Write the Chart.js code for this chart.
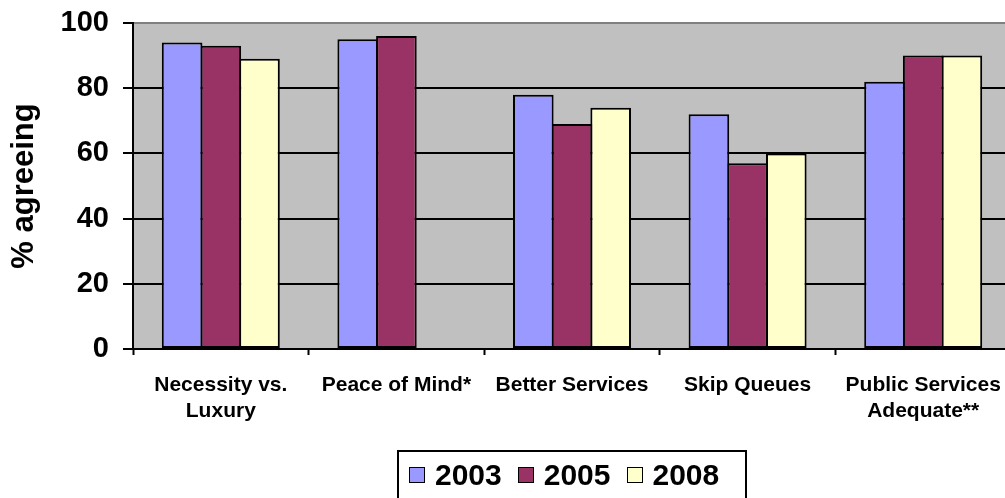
<!DOCTYPE html>
<html>
<head>
<meta charset="utf-8">
<script src="https://cdn.jsdelivr.net/npm/chart.js@4/dist/chart.umd.min.js"></script>
<style>
  html, body { margin: 0; padding: 0; background: #fff; overflow: hidden; }
  #wrap { position: relative; width: 1011px; height: 498px; }
  #legend {
    position: absolute; left: 397px; top: 450px; width: 346px; height: 60px;
    border: 2px solid #000; box-sizing: content-box;
    font-family: "Liberation Sans", Arial, sans-serif; font-weight: bold; font-size: 30px;
  }
  #legend .row { position: absolute; left: 10px; top: 6px; display: flex; align-items: center; line-height: 34px; }
  #legend .item { display: flex; align-items: center; margin-right: 16px; }
  #legend .swatch { width: 14px; height: 14px; border: 1.5px solid #000; margin-right: 10px; }
</style>
</head>
<body>
<div id="wrap">
  <canvas id="chart" width="1011" height="498"></canvas>
  <div id="legend"><div class="row"></div></div>
</div>
<script>
// Categorías y valores por año (% de acuerdo)
const categories = [
  ['Necessity vs.', 'Luxury'],
  'Peace of Mind*',
  'Better Services',
  'Skip Queues',
  ['Public Services', 'Adequate**']
];
const years = ['2003', '2005', '2008'];
const values2003 = [94, 95, 78, 72, 82];
const values2005 = [93, 96, 69, 57, 90];
const values2008 = [89, null, 74, 60, 90];
const yTicks = [0, 20, 40, 60, 80, 100];

const colors = ['#9999FF', '#993366', '#FFFFCC'];
const FONT = '"Liberation Sans", Arial, sans-serif';

// Fondo gris del área de trazado
const plotBackground = {
  id: 'plotBackground',
  beforeDraw(chart) {
    const { ctx, chartArea: a } = chart;
    ctx.save();
    ctx.fillStyle = '#C0C0C0';
    ctx.fillRect(a.left, a.top, a.right - a.left, a.bottom - a.top);
    ctx.restore();
  }
};

const seriesValues = [values2003, values2005, values2008];

const chart = new Chart(document.getElementById('chart'), {
  type: 'bar',
  data: {
    labels: categories,
    datasets: years.map((year, i) => ({
      label: year,
      data: seriesValues[i],
      backgroundColor: colors[i],
      borderColor: '#000',
      borderWidth: 2,
      borderSkipped: false,
      categoryPercentage: 0.661,
      barPercentage: 1.05
    }))
  },
  plugins: [plotBackground],
  options: {
    responsive: false,
    animation: false,
    devicePixelRatio: 1,
    layout: { padding: { top: 23, left: 0, right: 0, bottom: 0 } },
    plugins: {
      legend: { display: false },
      tooltip: { enabled: false }
    },
    scales: {
      x: {
        grid: {
          offset: true,
          drawOnChartArea: false,
          drawTicks: true,
          tickLength: 6,
          tickWidth: 2,
          color: '#000'
        },
        border: { color: '#000', width: 2 },
        ticks: {
          color: '#000',
          font: { family: FONT, size: 21, weight: 'bold', lineHeight: 1.24 },
          padding: 17,
          maxRotation: 0,
          autoSkip: false
        },
        // altura fija del eje y sin margen extra a los lados
        afterFit(scale) {
          scale.height = 149;
          scale.paddingLeft = 0;
          scale.paddingRight = 0;
        }
      },
      y: {
        min: 0,
        max: 100,
        afterBuildTicks(scale) { scale.ticks = yTicks.map(v => ({ value: v })); },
        grid: {
          color: (ctx) => ctx.tick && ctx.tick.value === 100 ? '#808080' : '#000',
          tickColor: '#000',
          lineWidth: 2,
          tickLength: 10,
          tickWidth: 2
        },
        border: { color: '#000', width: 2 },
        ticks: {
          color: '#000',
          font: { family: FONT, size: 29, weight: 'bold' },
          padding: 14
        },
        title: {
          display: true,
          text: '% agreeing',
          color: '#000',
          font: { family: FONT, size: 31, weight: 'bold', lineHeight: 1.2 },
          padding: { top: 6, bottom: 0 }
        },
        afterFit(scale) {
          scale.width = 133;
          scale.paddingTop = 0;
          scale.paddingBottom = 0;
        }
      }
    }
  }
});

// Leyenda construida a partir de los datasets
const row = document.querySelector('#legend .row');
chart.data.datasets.forEach(ds => {
  const item = document.createElement('div');
  item.className = 'item';
  const sw = document.createElement('span');
  sw.className = 'swatch';
  sw.style.background = ds.backgroundColor;
  const txt = document.createElement('span');
  txt.textContent = ds.label;
  item.appendChild(sw);
  item.appendChild(txt);
  row.appendChild(item);
});
</script>
</body>
</html>
